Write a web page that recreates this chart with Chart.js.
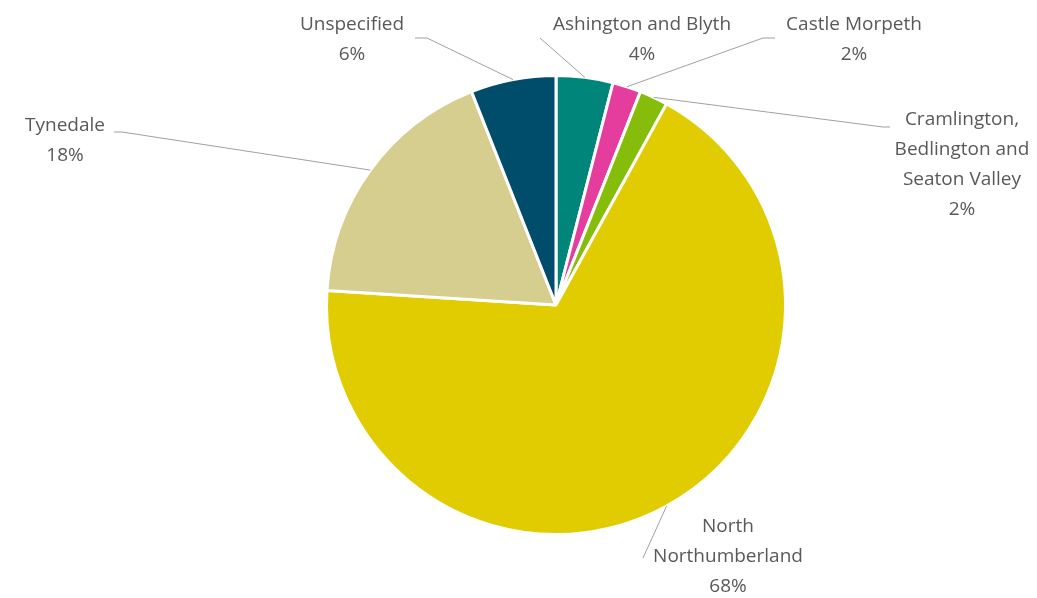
<!DOCTYPE html>
<html>
<head>
<meta charset="utf-8">
<script src="https://cdn.jsdelivr.net/npm/chart.js@4"></script>
<style>
  html, body { margin: 0; padding: 0; background: #fff; }
  #wrap { width: 1037px; height: 598px; }
</style>
</head>
<body>
<div id="wrap"><canvas id="localityChart" width="1037" height="598"></canvas></div>
<script>
// share of referrals by locality
const localities = [
  ['Ashington and Blyth'],
  ['Castle Morpeth'],
  ['Cramlington,', 'Bedlington and', 'Seaton Valley'],
  ['North', 'Northumberland'],
  ['Tynedale'],
  ['Unspecified']
];
const shares = [4, 2, 2, 68, 18, 6];
const sliceColours = ['#00857a', '#e43d9e', '#86bd0a', '#e0cc00', '#d5ce8f', '#004d6b'];

// where each label sits (centre x, first line y) and where its leader line leaves it
const labelLayout = [
  { x: 642, y: 25, from: [[540, 38]] },
  { x: 854, y: 25, from: [[775, 38], [763, 38]] },
  { x: 962, y: 120, from: [[890, 127], [883, 127]] },
  { x: 728, y: 527, from: [[643, 558]] },
  { x: 65, y: 126, from: [[114, 132], [122, 132]] },
  { x: 352, y: 25, from: [[415, 38], [427, 38]] }
];

const total = shares.reduce((a, b) => a + b, 0);

const outsideLabels = {
  id: 'outsideLabels',
  afterDatasetsDraw(chart) {
    const ctx = chart.ctx;
    const arcs = chart.getDatasetMeta(0).data;
    ctx.save();
    arcs.forEach((arc, i) => {
      const p = labelLayout[i];
      const mid = (arc.startAngle + arc.endAngle) / 2;
      const ex = arc.x + Math.cos(mid) * arc.outerRadius;
      const ey = arc.y + Math.sin(mid) * arc.outerRadius;

      ctx.strokeStyle = '#a0a0a0';
      ctx.lineWidth = 1;
      ctx.beginPath();
      ctx.moveTo(p.from[0][0], p.from[0][1]);
      for (let k = 1; k < p.from.length; k++) ctx.lineTo(p.from[k][0], p.from[k][1]);
      ctx.lineTo(ex, ey);
      ctx.stroke();

      ctx.fillStyle = '#595959';
      ctx.font = '19px "Open Sans", sans-serif';
      ctx.textAlign = 'center';
      ctx.textBaseline = 'middle';
      const lines = localities[i].concat([Math.round(shares[i] / total * 100) + '%']);
      lines.forEach((t, j) => ctx.fillText(t, p.x, p.y + j * 30));
    });
    ctx.restore();
  }
};

let ctx = document.getElementById('localityChart').getContext('2d');

let localityChart = new Chart(ctx, {
  type: 'pie',
  data: {
    labels: localities.map(l => l.join(' ')),
    datasets: [{
      data: shares,
      backgroundColor: sliceColours,
      borderColor: '#ffffff',
      borderWidth: 3
    }]
  },
  options: {
    responsive: false,
    animation: false,
    layout: {
      padding: { left: 325, right: 250, top: 74, bottom: 62 }
    },
    plugins: {
      legend: { display: false },
      tooltip: { enabled: false }
    }
  },
  plugins: [outsideLabels]
});
</script>
</body>
</html>
